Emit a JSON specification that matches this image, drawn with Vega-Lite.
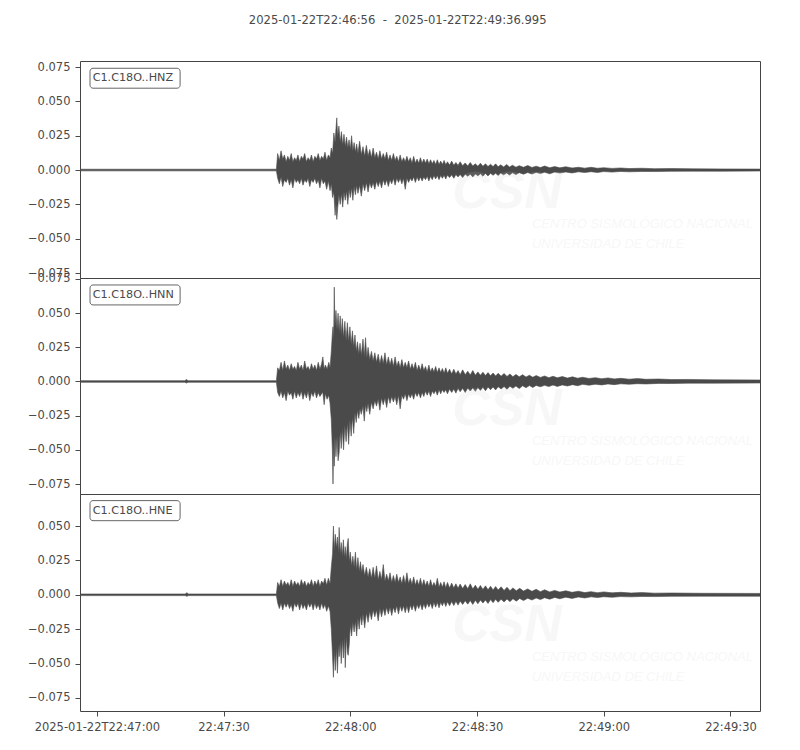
{
  "$schema": "https://vega.github.io/schema/vega-lite/v6.json",
  "background": "white",
  "padding": {"left": 26, "top": 14, "right": 30, "bottom": 10},
  "bounds": "flush",
  "title": {
    "text": "2025-01-22T22:46:56\u00a0\u00a0-\u00a0\u00a02025-01-22T22:49:36.995",
    "fontSize": 11.6,
    "fontWeight": "normal",
    "font": "DejaVu Sans",
    "color": "#4a4a4a",
    "anchor": "middle",
    "dx": 4,
    "offset": 34
  },
  "spacing": 0,
  "datasets": {
    "hnz": [
      {"t": 0, "hi": 0.0006, "lo": -0.0006},
      {"t": 46.5, "hi": 0.0006, "lo": -0.0006},
      {"t": 46.8, "hi": 0.012, "lo": -0.006},
      {"t": 47.2, "hi": 0.007, "lo": -0.010},
      {"t": 47.6, "hi": 0.014, "lo": -0.005},
      {"t": 48.0, "hi": 0.008, "lo": -0.012},
      {"t": 48.4, "hi": 0.011, "lo": -0.007},
      {"t": 48.8, "hi": 0.006, "lo": -0.009},
      {"t": 49.2, "hi": 0.010, "lo": -0.006},
      {"t": 49.6, "hi": 0.007, "lo": -0.011},
      {"t": 50.0, "hi": 0.012, "lo": -0.007},
      {"t": 50.4, "hi": 0.006, "lo": -0.013},
      {"t": 50.8, "hi": 0.009, "lo": -0.006},
      {"t": 51.2, "hi": 0.007, "lo": -0.009},
      {"t": 51.6, "hi": 0.011, "lo": -0.007},
      {"t": 52.0, "hi": 0.006, "lo": -0.010},
      {"t": 52.4, "hi": 0.010, "lo": -0.006},
      {"t": 52.8, "hi": 0.008, "lo": -0.011},
      {"t": 53.2, "hi": 0.012, "lo": -0.007},
      {"t": 53.6, "hi": 0.006, "lo": -0.009},
      {"t": 54.0, "hi": 0.009, "lo": -0.006},
      {"t": 54.4, "hi": 0.007, "lo": -0.012},
      {"t": 54.8, "hi": 0.011, "lo": -0.007},
      {"t": 55.2, "hi": 0.006, "lo": -0.009},
      {"t": 55.6, "hi": 0.010, "lo": -0.006},
      {"t": 56.0, "hi": 0.008, "lo": -0.010},
      {"t": 56.4, "hi": 0.012, "lo": -0.007},
      {"t": 56.8, "hi": 0.007, "lo": -0.013},
      {"t": 57.2, "hi": 0.010, "lo": -0.006},
      {"t": 57.6, "hi": 0.008, "lo": -0.010},
      {"t": 58.0, "hi": 0.013, "lo": -0.008},
      {"t": 58.4, "hi": 0.007, "lo": -0.014},
      {"t": 58.8, "hi": 0.011, "lo": -0.008},
      {"t": 59.2, "hi": 0.009, "lo": -0.015},
      {"t": 59.5, "hi": 0.016, "lo": -0.010},
      {"t": 59.8, "hi": 0.012, "lo": -0.020},
      {"t": 60.1, "hi": 0.027, "lo": -0.016},
      {"t": 60.4, "hi": 0.020, "lo": -0.033},
      {"t": 60.6, "hi": 0.030, "lo": -0.024},
      {"t": 60.8, "hi": 0.038, "lo": -0.036},
      {"t": 61.0, "hi": 0.024, "lo": -0.028},
      {"t": 61.3, "hi": 0.032, "lo": -0.018},
      {"t": 61.6, "hi": 0.020, "lo": -0.025},
      {"t": 61.9, "hi": 0.028, "lo": -0.017},
      {"t": 62.2, "hi": 0.018, "lo": -0.027},
      {"t": 62.5, "hi": 0.026, "lo": -0.016},
      {"t": 62.8, "hi": 0.017, "lo": -0.022},
      {"t": 63.1, "hi": 0.024, "lo": -0.015},
      {"t": 63.4, "hi": 0.016, "lo": -0.025},
      {"t": 63.7, "hi": 0.022, "lo": -0.014},
      {"t": 64.0, "hi": 0.015, "lo": -0.020},
      {"t": 64.3, "hi": 0.025, "lo": -0.013},
      {"t": 64.6, "hi": 0.014, "lo": -0.022},
      {"t": 64.9, "hi": 0.020, "lo": -0.012},
      {"t": 65.2, "hi": 0.013, "lo": -0.018},
      {"t": 65.5, "hi": 0.019, "lo": -0.011},
      {"t": 65.8, "hi": 0.012, "lo": -0.017},
      {"t": 66.2, "hi": 0.021, "lo": -0.011},
      {"t": 66.6, "hi": 0.011, "lo": -0.019},
      {"t": 67.0, "hi": 0.017, "lo": -0.010},
      {"t": 67.4, "hi": 0.010, "lo": -0.015},
      {"t": 67.8, "hi": 0.018, "lo": -0.009},
      {"t": 68.2, "hi": 0.010, "lo": -0.016},
      {"t": 68.6, "hi": 0.015, "lo": -0.009},
      {"t": 69.0, "hi": 0.009, "lo": -0.013},
      {"t": 69.4, "hi": 0.016, "lo": -0.009},
      {"t": 69.8, "hi": 0.009, "lo": -0.014},
      {"t": 70.2, "hi": 0.013, "lo": -0.008},
      {"t": 70.6, "hi": 0.008, "lo": -0.012},
      {"t": 71.0, "hi": 0.014, "lo": -0.008},
      {"t": 71.4, "hi": 0.008, "lo": -0.013},
      {"t": 71.8, "hi": 0.012, "lo": -0.007},
      {"t": 72.2, "hi": 0.008, "lo": -0.011},
      {"t": 72.6, "hi": 0.013, "lo": -0.007},
      {"t": 73.0, "hi": 0.007, "lo": -0.012},
      {"t": 73.4, "hi": 0.011, "lo": -0.007},
      {"t": 73.8, "hi": 0.007, "lo": -0.010},
      {"t": 74.2, "hi": 0.012, "lo": -0.006},
      {"t": 74.6, "hi": 0.007, "lo": -0.011},
      {"t": 75.0, "hi": 0.010, "lo": -0.006},
      {"t": 75.4, "hi": 0.006, "lo": -0.009},
      {"t": 75.8, "hi": 0.011, "lo": -0.006},
      {"t": 76.2, "hi": 0.006, "lo": -0.010},
      {"t": 76.6, "hi": 0.009, "lo": -0.006},
      {"t": 77.0, "hi": 0.006, "lo": -0.014},
      {"t": 77.4, "hi": 0.010, "lo": -0.006},
      {"t": 77.8, "hi": 0.006, "lo": -0.009},
      {"t": 78.2, "hi": 0.009, "lo": -0.006},
      {"t": 78.6, "hi": 0.005, "lo": -0.008},
      {"t": 79.0, "hi": 0.010, "lo": -0.005},
      {"t": 79.4, "hi": 0.005, "lo": -0.009},
      {"t": 79.8, "hi": 0.008, "lo": -0.005},
      {"t": 80.2, "hi": 0.005, "lo": -0.008},
      {"t": 80.6, "hi": 0.009, "lo": -0.005},
      {"t": 81.0, "hi": 0.005, "lo": -0.008},
      {"t": 81.4, "hi": 0.008, "lo": -0.005},
      {"t": 81.8, "hi": 0.005, "lo": -0.007},
      {"t": 82.2, "hi": 0.008, "lo": -0.0045},
      {"t": 82.6, "hi": 0.0045, "lo": -0.008},
      {"t": 83.0, "hi": 0.0075, "lo": -0.0045},
      {"t": 83.4, "hi": 0.0045, "lo": -0.007},
      {"t": 83.8, "hi": 0.007, "lo": -0.004},
      {"t": 84.2, "hi": 0.004, "lo": -0.0065},
      {"t": 84.6, "hi": 0.0075, "lo": -0.004},
      {"t": 85.0, "hi": 0.004, "lo": -0.007},
      {"t": 85.4, "hi": 0.0065, "lo": -0.004},
      {"t": 85.8, "hi": 0.004, "lo": -0.006},
      {"t": 86.2, "hi": 0.007, "lo": -0.0038},
      {"t": 86.6, "hi": 0.0038, "lo": -0.0065},
      {"t": 87.0, "hi": 0.006, "lo": -0.0036},
      {"t": 87.5, "hi": 0.0036, "lo": -0.0055},
      {"t": 88.0, "hi": 0.0065, "lo": -0.0035},
      {"t": 88.5, "hi": 0.0035, "lo": -0.006},
      {"t": 89.0, "hi": 0.0055, "lo": -0.0033},
      {"t": 89.5, "hi": 0.0034, "lo": -0.005},
      {"t": 90.0, "hi": 0.006, "lo": -0.0032},
      {"t": 90.6, "hi": 0.0032, "lo": -0.0055},
      {"t": 91.2, "hi": 0.0052, "lo": -0.003},
      {"t": 91.8, "hi": 0.003, "lo": -0.0045},
      {"t": 92.4, "hi": 0.0055, "lo": -0.003},
      {"t": 93.0, "hi": 0.003, "lo": -0.005},
      {"t": 93.6, "hi": 0.0045, "lo": -0.0028},
      {"t": 94.2, "hi": 0.0028, "lo": -0.0042},
      {"t": 94.8, "hi": 0.005, "lo": -0.0027},
      {"t": 95.4, "hi": 0.0027, "lo": -0.0045},
      {"t": 96.0, "hi": 0.0045, "lo": -0.0025},
      {"t": 96.6, "hi": 0.0026, "lo": -0.0043},
      {"t": 97.2, "hi": 0.0042, "lo": -0.0024},
      {"t": 97.8, "hi": 0.0025, "lo": -0.0038},
      {"t": 98.4, "hi": 0.0045, "lo": -0.0023},
      {"t": 99.0, "hi": 0.0024, "lo": -0.004},
      {"t": 99.6, "hi": 0.0038, "lo": -0.0022},
      {"t": 100.3, "hi": 0.0023, "lo": -0.0035},
      {"t": 101.0, "hi": 0.004, "lo": -0.0021},
      {"t": 101.7, "hi": 0.0022, "lo": -0.0036},
      {"t": 102.4, "hi": 0.0035, "lo": -0.002},
      {"t": 103.2, "hi": 0.0021, "lo": -0.0033},
      {"t": 104.0, "hi": 0.0032, "lo": -0.0019},
      {"t": 105.0, "hi": 0.002, "lo": -0.003},
      {"t": 106.0, "hi": 0.0033, "lo": -0.0018},
      {"t": 107.0, "hi": 0.0019, "lo": -0.0029},
      {"t": 108.0, "hi": 0.0028, "lo": -0.0017},
      {"t": 109.0, "hi": 0.0018, "lo": -0.0025},
      {"t": 110.0, "hi": 0.0029, "lo": -0.0016},
      {"t": 111.2, "hi": 0.0017, "lo": -0.0027},
      {"t": 112.4, "hi": 0.0025, "lo": -0.0015},
      {"t": 113.6, "hi": 0.0016, "lo": -0.0022},
      {"t": 115.0, "hi": 0.0024, "lo": -0.0014},
      {"t": 116.5, "hi": 0.0015, "lo": -0.0021},
      {"t": 118.0, "hi": 0.002, "lo": -0.0013},
      {"t": 119.5, "hi": 0.0014, "lo": -0.0018},
      {"t": 121.0, "hi": 0.002, "lo": -0.0012},
      {"t": 122.5, "hi": 0.0013, "lo": -0.0018},
      {"t": 124.0, "hi": 0.0017, "lo": -0.0011},
      {"t": 126.0, "hi": 0.0012, "lo": -0.0015},
      {"t": 128.0, "hi": 0.0015, "lo": -0.001},
      {"t": 130.0, "hi": 0.0011, "lo": -0.0013},
      {"t": 133.0, "hi": 0.0013, "lo": -0.001},
      {"t": 136.0, "hi": 0.001, "lo": -0.0011},
      {"t": 140.0, "hi": 0.0011, "lo": -0.0009},
      {"t": 145.0, "hi": 0.0009, "lo": -0.0008},
      {"t": 152.0, "hi": 0.0008, "lo": -0.0008},
      {"t": 160.995, "hi": 0.0007, "lo": -0.0007}
    ],
    "hnn": [
      {"t": 0, "hi": 0.0006, "lo": -0.0006},
      {"t": 24.8, "hi": 0.0006, "lo": -0.0006},
      {"t": 25.2, "hi": 0.0014, "lo": -0.0011},
      {"t": 25.6, "hi": 0.0006, "lo": -0.0006},
      {"t": 46.5, "hi": 0.0006, "lo": -0.0006},
      {"t": 46.8, "hi": 0.010, "lo": -0.008},
      {"t": 47.2, "hi": 0.008, "lo": -0.011},
      {"t": 47.6, "hi": 0.014, "lo": -0.007},
      {"t": 48.0, "hi": 0.008, "lo": -0.012},
      {"t": 48.4, "hi": 0.015, "lo": -0.008},
      {"t": 48.8, "hi": 0.009, "lo": -0.014},
      {"t": 49.2, "hi": 0.012, "lo": -0.007},
      {"t": 49.6, "hi": 0.008, "lo": -0.010},
      {"t": 50.0, "hi": 0.013, "lo": -0.008},
      {"t": 50.4, "hi": 0.009, "lo": -0.013},
      {"t": 50.8, "hi": 0.011, "lo": -0.007},
      {"t": 51.2, "hi": 0.008, "lo": -0.012},
      {"t": 51.6, "hi": 0.014, "lo": -0.008},
      {"t": 52.0, "hi": 0.009, "lo": -0.011},
      {"t": 52.4, "hi": 0.012, "lo": -0.007},
      {"t": 52.8, "hi": 0.008, "lo": -0.013},
      {"t": 53.2, "hi": 0.015, "lo": -0.008},
      {"t": 53.6, "hi": 0.009, "lo": -0.012},
      {"t": 54.0, "hi": 0.011, "lo": -0.007},
      {"t": 54.4, "hi": 0.008, "lo": -0.014},
      {"t": 54.8, "hi": 0.013, "lo": -0.008},
      {"t": 55.2, "hi": 0.009, "lo": -0.011},
      {"t": 55.6, "hi": 0.012, "lo": -0.007},
      {"t": 56.0, "hi": 0.008, "lo": -0.012},
      {"t": 56.4, "hi": 0.014, "lo": -0.008},
      {"t": 56.8, "hi": 0.009, "lo": -0.011},
      {"t": 57.2, "hi": 0.013, "lo": -0.009},
      {"t": 57.5, "hi": 0.018, "lo": -0.008},
      {"t": 57.8, "hi": 0.009, "lo": -0.017},
      {"t": 58.1, "hi": 0.012, "lo": -0.009},
      {"t": 58.5, "hi": 0.009, "lo": -0.013},
      {"t": 58.9, "hi": 0.014, "lo": -0.010},
      {"t": 59.2, "hi": 0.010, "lo": -0.016},
      {"t": 59.5, "hi": 0.022, "lo": -0.028},
      {"t": 59.75, "hi": 0.035, "lo": -0.050},
      {"t": 59.9, "hi": 0.040, "lo": -0.075},
      {"t": 60.05, "hi": 0.030, "lo": -0.045},
      {"t": 60.2, "hi": 0.069, "lo": -0.062},
      {"t": 60.35, "hi": 0.040, "lo": -0.040},
      {"t": 60.6, "hi": 0.052, "lo": -0.055},
      {"t": 60.85, "hi": 0.038, "lo": -0.040},
      {"t": 61.1, "hi": 0.050, "lo": -0.058},
      {"t": 61.35, "hi": 0.036, "lo": -0.052},
      {"t": 61.6, "hi": 0.048, "lo": -0.036},
      {"t": 61.85, "hi": 0.034, "lo": -0.049},
      {"t": 62.1, "hi": 0.046, "lo": -0.034},
      {"t": 62.4, "hi": 0.032, "lo": -0.050},
      {"t": 62.7, "hi": 0.044, "lo": -0.032},
      {"t": 63.0, "hi": 0.030, "lo": -0.044},
      {"t": 63.3, "hi": 0.043, "lo": -0.030},
      {"t": 63.6, "hi": 0.029, "lo": -0.046},
      {"t": 63.9, "hi": 0.040, "lo": -0.028},
      {"t": 64.2, "hi": 0.027, "lo": -0.040},
      {"t": 64.5, "hi": 0.037, "lo": -0.026},
      {"t": 64.8, "hi": 0.025, "lo": -0.038},
      {"t": 65.1, "hi": 0.034, "lo": -0.023},
      {"t": 65.4, "hi": 0.022, "lo": -0.030},
      {"t": 65.7, "hi": 0.029, "lo": -0.021},
      {"t": 66.0, "hi": 0.020, "lo": -0.027},
      {"t": 66.3, "hi": 0.028, "lo": -0.020},
      {"t": 66.6, "hi": 0.019, "lo": -0.024},
      {"t": 67.0, "hi": 0.031, "lo": -0.018},
      {"t": 67.3, "hi": 0.018, "lo": -0.029},
      {"t": 67.6, "hi": 0.032, "lo": -0.017},
      {"t": 67.9, "hi": 0.017, "lo": -0.022},
      {"t": 68.2, "hi": 0.025, "lo": -0.016},
      {"t": 68.6, "hi": 0.016, "lo": -0.024},
      {"t": 69.0, "hi": 0.022, "lo": -0.015},
      {"t": 69.4, "hi": 0.015, "lo": -0.020},
      {"t": 69.8, "hi": 0.021, "lo": -0.014},
      {"t": 70.2, "hi": 0.014, "lo": -0.018},
      {"t": 70.6, "hi": 0.020, "lo": -0.013},
      {"t": 71.0, "hi": 0.013, "lo": -0.021},
      {"t": 71.4, "hi": 0.019, "lo": -0.012},
      {"t": 71.8, "hi": 0.013, "lo": -0.017},
      {"t": 72.2, "hi": 0.021, "lo": -0.012},
      {"t": 72.6, "hi": 0.012, "lo": -0.019},
      {"t": 73.0, "hi": 0.018, "lo": -0.011},
      {"t": 73.4, "hi": 0.012, "lo": -0.016},
      {"t": 73.8, "hi": 0.017, "lo": -0.011},
      {"t": 74.2, "hi": 0.011, "lo": -0.015},
      {"t": 74.6, "hi": 0.018, "lo": -0.011},
      {"t": 75.0, "hi": 0.011, "lo": -0.017},
      {"t": 75.4, "hi": 0.015, "lo": -0.010},
      {"t": 75.8, "hi": 0.010, "lo": -0.020},
      {"t": 76.2, "hi": 0.016, "lo": -0.010},
      {"t": 76.6, "hi": 0.010, "lo": -0.013},
      {"t": 77.0, "hi": 0.014, "lo": -0.009},
      {"t": 77.4, "hi": 0.010, "lo": -0.014},
      {"t": 77.8, "hi": 0.015, "lo": -0.009},
      {"t": 78.2, "hi": 0.009, "lo": -0.012},
      {"t": 78.6, "hi": 0.013, "lo": -0.009},
      {"t": 79.0, "hi": 0.009, "lo": -0.013},
      {"t": 79.4, "hi": 0.014, "lo": -0.008},
      {"t": 79.8, "hi": 0.008, "lo": -0.011},
      {"t": 80.2, "hi": 0.012, "lo": -0.008},
      {"t": 80.6, "hi": 0.008, "lo": -0.012},
      {"t": 81.0, "hi": 0.013, "lo": -0.008},
      {"t": 81.4, "hi": 0.008, "lo": -0.011},
      {"t": 81.8, "hi": 0.011, "lo": -0.007},
      {"t": 82.2, "hi": 0.007, "lo": -0.010},
      {"t": 82.6, "hi": 0.012, "lo": -0.007},
      {"t": 83.0, "hi": 0.007, "lo": -0.011},
      {"t": 83.4, "hi": 0.010, "lo": -0.007},
      {"t": 83.8, "hi": 0.007, "lo": -0.009},
      {"t": 84.2, "hi": 0.011, "lo": -0.0065},
      {"t": 84.6, "hi": 0.0065, "lo": -0.010},
      {"t": 85.0, "hi": 0.010, "lo": -0.006},
      {"t": 85.4, "hi": 0.0065, "lo": -0.009},
      {"t": 85.8, "hi": 0.0095, "lo": -0.006},
      {"t": 86.2, "hi": 0.006, "lo": -0.008},
      {"t": 86.6, "hi": 0.010, "lo": -0.006},
      {"t": 87.0, "hi": 0.006, "lo": -0.009},
      {"t": 87.5, "hi": 0.009, "lo": -0.0055},
      {"t": 88.0, "hi": 0.0055, "lo": -0.008},
      {"t": 88.5, "hi": 0.009, "lo": -0.0055},
      {"t": 89.0, "hi": 0.0055, "lo": -0.0085},
      {"t": 89.5, "hi": 0.008, "lo": -0.005},
      {"t": 90.0, "hi": 0.005, "lo": -0.0075},
      {"t": 90.6, "hi": 0.0085, "lo": -0.005},
      {"t": 91.2, "hi": 0.005, "lo": -0.008},
      {"t": 91.8, "hi": 0.0075, "lo": -0.0048},
      {"t": 92.4, "hi": 0.0048, "lo": -0.007},
      {"t": 93.0, "hi": 0.008, "lo": -0.0046},
      {"t": 93.6, "hi": 0.0046, "lo": -0.0072},
      {"t": 94.2, "hi": 0.007, "lo": -0.0044},
      {"t": 94.8, "hi": 0.0045, "lo": -0.0065},
      {"t": 95.4, "hi": 0.0068, "lo": -0.0043},
      {"t": 96.0, "hi": 0.0043, "lo": -0.0068},
      {"t": 96.6, "hi": 0.0065, "lo": -0.0041},
      {"t": 97.2, "hi": 0.0042, "lo": -0.006},
      {"t": 97.8, "hi": 0.0062, "lo": -0.004},
      {"t": 98.4, "hi": 0.004, "lo": -0.0062},
      {"t": 99.0, "hi": 0.006, "lo": -0.0038},
      {"t": 99.7, "hi": 0.0039, "lo": -0.0055},
      {"t": 100.4, "hi": 0.0058, "lo": -0.0037},
      {"t": 101.1, "hi": 0.0037, "lo": -0.0057},
      {"t": 101.8, "hi": 0.0055, "lo": -0.0035},
      {"t": 102.5, "hi": 0.0035, "lo": -0.005},
      {"t": 103.2, "hi": 0.0052, "lo": -0.0033},
      {"t": 104.0, "hi": 0.0034, "lo": -0.0052},
      {"t": 104.8, "hi": 0.005, "lo": -0.0032},
      {"t": 105.6, "hi": 0.0032, "lo": -0.0045},
      {"t": 106.4, "hi": 0.0046, "lo": -0.003},
      {"t": 107.2, "hi": 0.0031, "lo": -0.0044},
      {"t": 108.0, "hi": 0.0043, "lo": -0.0029},
      {"t": 109.0, "hi": 0.003, "lo": -0.0039},
      {"t": 110.0, "hi": 0.004, "lo": -0.0028},
      {"t": 111.0, "hi": 0.0028, "lo": -0.0037},
      {"t": 112.0, "hi": 0.0038, "lo": -0.0026},
      {"t": 113.0, "hi": 0.0027, "lo": -0.0036},
      {"t": 114.2, "hi": 0.0036, "lo": -0.0025},
      {"t": 115.4, "hi": 0.0025, "lo": -0.0033},
      {"t": 116.6, "hi": 0.0034, "lo": -0.0023},
      {"t": 117.8, "hi": 0.0024, "lo": -0.0031},
      {"t": 119.0, "hi": 0.0031, "lo": -0.0021},
      {"t": 120.5, "hi": 0.0022, "lo": -0.0027},
      {"t": 122.0, "hi": 0.0028, "lo": -0.002},
      {"t": 123.5, "hi": 0.002, "lo": -0.0025},
      {"t": 125.0, "hi": 0.0026, "lo": -0.0018},
      {"t": 126.5, "hi": 0.0019, "lo": -0.0023},
      {"t": 128.0, "hi": 0.0023, "lo": -0.0017},
      {"t": 130.0, "hi": 0.0017, "lo": -0.002},
      {"t": 132.0, "hi": 0.0021, "lo": -0.0016},
      {"t": 134.0, "hi": 0.0016, "lo": -0.0018},
      {"t": 137.0, "hi": 0.0018, "lo": -0.0014},
      {"t": 140.0, "hi": 0.0014, "lo": -0.0015},
      {"t": 144.0, "hi": 0.0015, "lo": -0.0012},
      {"t": 150.0, "hi": 0.0012, "lo": -0.0012},
      {"t": 160.995, "hi": 0.0011, "lo": -0.0011}
    ],
    "hne": [
      {"t": 0, "hi": 0.0006, "lo": -0.0006},
      {"t": 24.9, "hi": 0.0006, "lo": -0.0006},
      {"t": 25.3, "hi": 0.0015, "lo": -0.0011},
      {"t": 25.7, "hi": 0.0006, "lo": -0.0006},
      {"t": 46.5, "hi": 0.0006, "lo": -0.0006},
      {"t": 46.8, "hi": 0.009, "lo": -0.006},
      {"t": 47.2, "hi": 0.006, "lo": -0.010},
      {"t": 47.6, "hi": 0.011, "lo": -0.006},
      {"t": 48.0, "hi": 0.006, "lo": -0.011},
      {"t": 48.4, "hi": 0.010, "lo": -0.006},
      {"t": 48.8, "hi": 0.007, "lo": -0.009},
      {"t": 49.2, "hi": 0.009, "lo": -0.006},
      {"t": 49.6, "hi": 0.006, "lo": -0.010},
      {"t": 50.0, "hi": 0.011, "lo": -0.007},
      {"t": 50.4, "hi": 0.006, "lo": -0.012},
      {"t": 50.8, "hi": 0.010, "lo": -0.006},
      {"t": 51.2, "hi": 0.007, "lo": -0.009},
      {"t": 51.6, "hi": 0.009, "lo": -0.006},
      {"t": 52.0, "hi": 0.006, "lo": -0.011},
      {"t": 52.4, "hi": 0.011, "lo": -0.006},
      {"t": 52.8, "hi": 0.007, "lo": -0.010},
      {"t": 53.2, "hi": 0.010, "lo": -0.007},
      {"t": 53.6, "hi": 0.006, "lo": -0.011},
      {"t": 54.0, "hi": 0.009, "lo": -0.006},
      {"t": 54.4, "hi": 0.007, "lo": -0.009},
      {"t": 54.8, "hi": 0.011, "lo": -0.006},
      {"t": 55.2, "hi": 0.006, "lo": -0.011},
      {"t": 55.6, "hi": 0.010, "lo": -0.006},
      {"t": 56.0, "hi": 0.007, "lo": -0.010},
      {"t": 56.4, "hi": 0.011, "lo": -0.007},
      {"t": 56.8, "hi": 0.006, "lo": -0.011},
      {"t": 57.2, "hi": 0.010, "lo": -0.006},
      {"t": 57.6, "hi": 0.008, "lo": -0.010},
      {"t": 58.0, "hi": 0.012, "lo": -0.007},
      {"t": 58.4, "hi": 0.007, "lo": -0.012},
      {"t": 58.8, "hi": 0.012, "lo": -0.008},
      {"t": 59.2, "hi": 0.008, "lo": -0.012},
      {"t": 59.5, "hi": 0.020, "lo": -0.025},
      {"t": 59.8, "hi": 0.030, "lo": -0.045},
      {"t": 60.0, "hi": 0.050, "lo": -0.060},
      {"t": 60.2, "hi": 0.032, "lo": -0.040},
      {"t": 60.45, "hi": 0.044, "lo": -0.055},
      {"t": 60.7, "hi": 0.034, "lo": -0.038},
      {"t": 60.95, "hi": 0.042, "lo": -0.057},
      {"t": 61.2, "hi": 0.030, "lo": -0.036},
      {"t": 61.35, "hi": 0.049, "lo": -0.045},
      {"t": 61.6, "hi": 0.030, "lo": -0.034},
      {"t": 61.85, "hi": 0.038, "lo": -0.050},
      {"t": 62.1, "hi": 0.028, "lo": -0.032},
      {"t": 62.35, "hi": 0.040, "lo": -0.046},
      {"t": 62.6, "hi": 0.027, "lo": -0.030},
      {"t": 62.8, "hi": 0.035, "lo": -0.053},
      {"t": 63.05, "hi": 0.026, "lo": -0.030},
      {"t": 63.3, "hi": 0.037, "lo": -0.042},
      {"t": 63.5, "hi": 0.041, "lo": -0.044},
      {"t": 63.75, "hi": 0.024, "lo": -0.036},
      {"t": 64.0, "hi": 0.031, "lo": -0.022},
      {"t": 64.3, "hi": 0.021, "lo": -0.030},
      {"t": 64.6, "hi": 0.028, "lo": -0.020},
      {"t": 64.9, "hi": 0.020, "lo": -0.027},
      {"t": 65.2, "hi": 0.031, "lo": -0.019},
      {"t": 65.5, "hi": 0.018, "lo": -0.030},
      {"t": 65.8, "hi": 0.027, "lo": -0.017},
      {"t": 66.1, "hi": 0.017, "lo": -0.025},
      {"t": 66.4, "hi": 0.024, "lo": -0.015},
      {"t": 66.7, "hi": 0.016, "lo": -0.022},
      {"t": 67.0, "hi": 0.022, "lo": -0.014},
      {"t": 67.4, "hi": 0.014, "lo": -0.024},
      {"t": 67.8, "hi": 0.020, "lo": -0.013},
      {"t": 68.2, "hi": 0.013, "lo": -0.020},
      {"t": 68.6, "hi": 0.019, "lo": -0.012},
      {"t": 69.0, "hi": 0.012, "lo": -0.018},
      {"t": 69.4, "hi": 0.020, "lo": -0.011},
      {"t": 69.8, "hi": 0.012, "lo": -0.016},
      {"t": 70.2, "hi": 0.021, "lo": -0.011},
      {"t": 70.6, "hi": 0.011, "lo": -0.019},
      {"t": 71.0, "hi": 0.017, "lo": -0.010},
      {"t": 71.4, "hi": 0.011, "lo": -0.016},
      {"t": 71.8, "hi": 0.022, "lo": -0.010},
      {"t": 72.2, "hi": 0.010, "lo": -0.015},
      {"t": 72.6, "hi": 0.015, "lo": -0.009},
      {"t": 73.0, "hi": 0.010, "lo": -0.014},
      {"t": 73.4, "hi": 0.016, "lo": -0.009},
      {"t": 73.8, "hi": 0.009, "lo": -0.015},
      {"t": 74.2, "hi": 0.014, "lo": -0.009},
      {"t": 74.6, "hi": 0.009, "lo": -0.013},
      {"t": 75.0, "hi": 0.015, "lo": -0.008},
      {"t": 75.4, "hi": 0.009, "lo": -0.014},
      {"t": 75.8, "hi": 0.013, "lo": -0.008},
      {"t": 76.2, "hi": 0.008, "lo": -0.012},
      {"t": 76.6, "hi": 0.014, "lo": -0.008},
      {"t": 77.0, "hi": 0.008, "lo": -0.013},
      {"t": 77.4, "hi": 0.016, "lo": -0.008},
      {"t": 77.8, "hi": 0.008, "lo": -0.013},
      {"t": 78.2, "hi": 0.012, "lo": -0.0075},
      {"t": 78.6, "hi": 0.0075, "lo": -0.011},
      {"t": 79.0, "hi": 0.013, "lo": -0.007},
      {"t": 79.4, "hi": 0.007, "lo": -0.012},
      {"t": 79.8, "hi": 0.011, "lo": -0.007},
      {"t": 80.2, "hi": 0.007, "lo": -0.010},
      {"t": 80.6, "hi": 0.012, "lo": -0.0065},
      {"t": 81.0, "hi": 0.0065, "lo": -0.011},
      {"t": 81.4, "hi": 0.011, "lo": -0.0065},
      {"t": 81.8, "hi": 0.0065, "lo": -0.010},
      {"t": 82.2, "hi": 0.010, "lo": -0.006},
      {"t": 82.6, "hi": 0.006, "lo": -0.009},
      {"t": 83.0, "hi": 0.011, "lo": -0.006},
      {"t": 83.4, "hi": 0.006, "lo": -0.010},
      {"t": 83.8, "hi": 0.009, "lo": -0.0055},
      {"t": 84.2, "hi": 0.006, "lo": -0.009},
      {"t": 84.6, "hi": 0.012, "lo": -0.0055},
      {"t": 85.0, "hi": 0.0055, "lo": -0.0095},
      {"t": 85.4, "hi": 0.009, "lo": -0.0055},
      {"t": 85.8, "hi": 0.0055, "lo": -0.008},
      {"t": 86.2, "hi": 0.0095, "lo": -0.005},
      {"t": 86.6, "hi": 0.005, "lo": -0.0085},
      {"t": 87.0, "hi": 0.009, "lo": -0.005},
      {"t": 87.5, "hi": 0.005, "lo": -0.008},
      {"t": 88.0, "hi": 0.0085, "lo": -0.0048},
      {"t": 88.5, "hi": 0.005, "lo": -0.0078},
      {"t": 89.0, "hi": 0.008, "lo": -0.0046},
      {"t": 89.5, "hi": 0.0048, "lo": -0.0075},
      {"t": 90.0, "hi": 0.0078, "lo": -0.0045},
      {"t": 90.6, "hi": 0.0045, "lo": -0.007},
      {"t": 91.2, "hi": 0.0075, "lo": -0.0043},
      {"t": 91.8, "hi": 0.0044, "lo": -0.0068},
      {"t": 92.4, "hi": 0.008, "lo": -0.0042},
      {"t": 93.0, "hi": 0.0042, "lo": -0.007},
      {"t": 93.6, "hi": 0.007, "lo": -0.004},
      {"t": 94.2, "hi": 0.004, "lo": -0.0065},
      {"t": 94.8, "hi": 0.0068, "lo": -0.0038},
      {"t": 95.4, "hi": 0.0039, "lo": -0.006},
      {"t": 96.0, "hi": 0.0065, "lo": -0.0037},
      {"t": 96.6, "hi": 0.0037, "lo": -0.0063},
      {"t": 97.2, "hi": 0.0062, "lo": -0.0035},
      {"t": 97.8, "hi": 0.0035, "lo": -0.0057},
      {"t": 98.4, "hi": 0.006, "lo": -0.0033},
      {"t": 99.0, "hi": 0.0034, "lo": -0.0055},
      {"t": 99.7, "hi": 0.0058, "lo": -0.0032},
      {"t": 100.4, "hi": 0.0032, "lo": -0.0052},
      {"t": 101.1, "hi": 0.0055, "lo": -0.003},
      {"t": 101.8, "hi": 0.003, "lo": -0.005},
      {"t": 102.5, "hi": 0.005, "lo": -0.0028},
      {"t": 103.3, "hi": 0.0029, "lo": -0.0046},
      {"t": 104.1, "hi": 0.0047, "lo": -0.0027},
      {"t": 105.0, "hi": 0.0027, "lo": -0.0042},
      {"t": 106.0, "hi": 0.0043, "lo": -0.0025},
      {"t": 107.0, "hi": 0.0025, "lo": -0.0038},
      {"t": 108.0, "hi": 0.004, "lo": -0.0023},
      {"t": 109.0, "hi": 0.0023, "lo": -0.0035},
      {"t": 110.0, "hi": 0.0036, "lo": -0.0021},
      {"t": 111.2, "hi": 0.0021, "lo": -0.0032},
      {"t": 112.4, "hi": 0.0032, "lo": -0.0019},
      {"t": 113.6, "hi": 0.002, "lo": -0.0029},
      {"t": 115.0, "hi": 0.0029, "lo": -0.0017},
      {"t": 116.5, "hi": 0.0018, "lo": -0.0026},
      {"t": 118.0, "hi": 0.0026, "lo": -0.0016},
      {"t": 119.5, "hi": 0.0016, "lo": -0.0023},
      {"t": 121.0, "hi": 0.0023, "lo": -0.0015},
      {"t": 122.5, "hi": 0.0015, "lo": -0.002},
      {"t": 124.0, "hi": 0.0021, "lo": -0.0014},
      {"t": 126.0, "hi": 0.0014, "lo": -0.0018},
      {"t": 128.0, "hi": 0.0018, "lo": -0.0013},
      {"t": 130.5, "hi": 0.0013, "lo": -0.0015},
      {"t": 133.0, "hi": 0.0016, "lo": -0.0012},
      {"t": 136.0, "hi": 0.0012, "lo": -0.0013},
      {"t": 140.0, "hi": 0.0013, "lo": -0.0011},
      {"t": 147.0, "hi": 0.0011, "lo": -0.001},
      {"t": 160.995, "hi": 0.001, "lo": -0.001}
    ]
  },
  "vconcat": [
    {
      "width": 680,
      "height": 217,
      "encoding": {
        "x": {"field": "t", "type": "quantitative", "title": null, "scale": {"domain": [0, 160.995], "nice": false, "zero": false}, "axis": null},
        "y": {"field": "hi", "type": "quantitative", "title": null, "scale": {"domain": [-0.0786, 0.0794], "nice": false, "zero": false},
          "axis": {"values": [-0.075, -0.05, -0.025, 0, 0.025, 0.05, 0.075], "format": ".3f"}}
      },
      "layer": [
        {"data": {"name": "hnz"}, "mark": {"type": "area", "color": "#4a4a4a", "stroke": "#4a4a4a", "strokeWidth": 0.6, "clip": true}, "encoding": {"y2": {"field": "lo"}}},
        {"data": {"values": [{"t": 101.1, "hi": -0.0276, "label": "CSN"}]}, "mark": {"type": "text", "font": "Liberation Sans", "fontSize": 52, "fontWeight": "bold", "fontStyle": "italic", "align": "center", "baseline": "alphabetic", "color": "#cccccc", "opacity": 0.15}, "encoding": {"text": {"field": "label"}}},
        {"data": {"values": [{"t": 107.0, "hi": -0.0392, "label": "CENTRO SISMOLÓGICO NACIONAL"}, {"t": 107.0, "hi": -0.0538, "label": "UNIVERSIDAD DE CHILE"}]}, "mark": {"type": "text", "font": "Liberation Sans", "fontSize": 13, "fontStyle": "italic", "align": "left", "baseline": "middle", "color": "#cccccc", "opacity": 0.15}, "encoding": {"text": {"field": "label"}}},
        {"data": {"values": [{"t": 2.37, "t2": 23.7, "hi": 0.0741, "lo": 0.0596}]}, "mark": {"type": "rect", "fill": "white", "stroke": "#666666", "strokeWidth": 1, "cornerRadius": 3}, "encoding": {"x2": {"field": "t2"}, "y2": {"field": "lo"}}},
        {"data": {"values": [{"t": 3.0, "hi": 0.0669, "label": "C1.C18O..HNZ"}]}, "mark": {"type": "text", "font": "DejaVu Sans", "fontSize": 11.2, "align": "left", "baseline": "middle", "color": "#4a4a4a"}, "encoding": {"text": {"field": "label"}}}
      ]
    },
    {
      "width": 680,
      "height": 216,
      "encoding": {
        "x": {"field": "t", "type": "quantitative", "title": null, "scale": {"domain": [0, 160.995], "nice": false, "zero": false}, "axis": null},
        "y": {"field": "hi", "type": "quantitative", "title": null, "scale": {"domain": [-0.0823, 0.0757], "nice": false, "zero": false},
          "axis": {"values": [-0.075, -0.05, -0.025, 0, 0.025, 0.05, 0.075], "format": ".3f"}}
      },
      "layer": [
        {"data": {"name": "hnn"}, "mark": {"type": "area", "color": "#4a4a4a", "stroke": "#4a4a4a", "strokeWidth": 0.6, "clip": true}, "encoding": {"y2": {"field": "lo"}}},
        {"data": {"values": [{"t": 101.1, "hi": -0.0318, "label": "CSN"}]}, "mark": {"type": "text", "font": "Liberation Sans", "fontSize": 52, "fontWeight": "bold", "fontStyle": "italic", "align": "center", "baseline": "alphabetic", "color": "#cccccc", "opacity": 0.15}, "encoding": {"text": {"field": "label"}}},
        {"data": {"values": [{"t": 107.0, "hi": -0.0438, "label": "CENTRO SISMOLÓGICO NACIONAL"}, {"t": 107.0, "hi": -0.0582, "label": "UNIVERSIDAD DE CHILE"}]}, "mark": {"type": "text", "font": "Liberation Sans", "fontSize": 13, "fontStyle": "italic", "align": "left", "baseline": "middle", "color": "#cccccc", "opacity": 0.15}, "encoding": {"text": {"field": "label"}}},
        {"data": {"values": [{"t": 2.37, "t2": 23.7, "hi": 0.0706, "lo": 0.0560}]}, "mark": {"type": "rect", "fill": "white", "stroke": "#666666", "strokeWidth": 1, "cornerRadius": 3}, "encoding": {"x2": {"field": "t2"}, "y2": {"field": "lo"}}},
        {"data": {"values": [{"t": 3.0, "hi": 0.0633, "label": "C1.C18O..HNN"}]}, "mark": {"type": "text", "font": "DejaVu Sans", "fontSize": 11.2, "align": "left", "baseline": "middle", "color": "#4a4a4a"}, "encoding": {"text": {"field": "label"}}}
      ]
    },
    {
      "width": 680,
      "height": 217,
      "encoding": {
        "x": {"field": "t", "type": "quantitative", "title": null, "scale": {"domain": [0, 160.995], "nice": false, "zero": false},
          "axis": {"values": [4, 34, 64, 94, 124, 154], "labelExpr": "['2025-01-22T22:47:00', '22:47:30', '22:48:00', '22:48:30', '22:49:00', '22:49:30'][round((datum.value - 4) / 30)]"}},
        "y": {"field": "hi", "type": "quantitative", "title": null, "scale": {"domain": [-0.0845, 0.0733], "nice": false, "zero": false},
          "axis": {"values": [-0.075, -0.05, -0.025, 0, 0.025, 0.05, 0.075], "format": ".3f"}}
      },
      "layer": [
        {"data": {"name": "hne"}, "mark": {"type": "area", "color": "#4a4a4a", "stroke": "#4a4a4a", "strokeWidth": 0.6, "clip": true}, "encoding": {"y2": {"field": "lo"}}},
        {"data": {"values": [{"t": 101.1, "hi": -0.0335, "label": "CSN"}]}, "mark": {"type": "text", "font": "Liberation Sans", "fontSize": 52, "fontWeight": "bold", "fontStyle": "italic", "align": "center", "baseline": "alphabetic", "color": "#cccccc", "opacity": 0.15}, "encoding": {"text": {"field": "label"}}},
        {"data": {"values": [{"t": 107.0, "hi": -0.0452, "label": "CENTRO SISMOLÓGICO NACIONAL"}, {"t": 107.0, "hi": -0.0597, "label": "UNIVERSIDAD DE CHILE"}]}, "mark": {"type": "text", "font": "Liberation Sans", "fontSize": 13, "fontStyle": "italic", "align": "left", "baseline": "middle", "color": "#cccccc", "opacity": 0.15}, "encoding": {"text": {"field": "label"}}},
        {"data": {"values": [{"t": 2.37, "t2": 23.7, "hi": 0.0685, "lo": 0.0539}]}, "mark": {"type": "rect", "fill": "white", "stroke": "#666666", "strokeWidth": 1, "cornerRadius": 3}, "encoding": {"x2": {"field": "t2"}, "y2": {"field": "lo"}}},
        {"data": {"values": [{"t": 3.0, "hi": 0.0612, "label": "C1.C18O..HNE"}]}, "mark": {"type": "text", "font": "DejaVu Sans", "fontSize": 11.2, "align": "left", "baseline": "middle", "color": "#4a4a4a"}, "encoding": {"text": {"field": "label"}}}
      ]
    }
  ],
  "config": {
    "font": "DejaVu Sans",
    "view": {"stroke": "#444444", "strokeWidth": 1},
    "axis": {
      "grid": false,
      "domain": false,
      "labelFont": "DejaVu Sans",
      "labelFontSize": 11.5,
      "labelColor": "#4a4a4a",
      "tickColor": "#4a4a4a",
      "tickSize": 5,
      "labelPadding": 5,
      "labelOverlap": false,
      "labelBound": false,
      "labelFlush": false
    }
  }
}
